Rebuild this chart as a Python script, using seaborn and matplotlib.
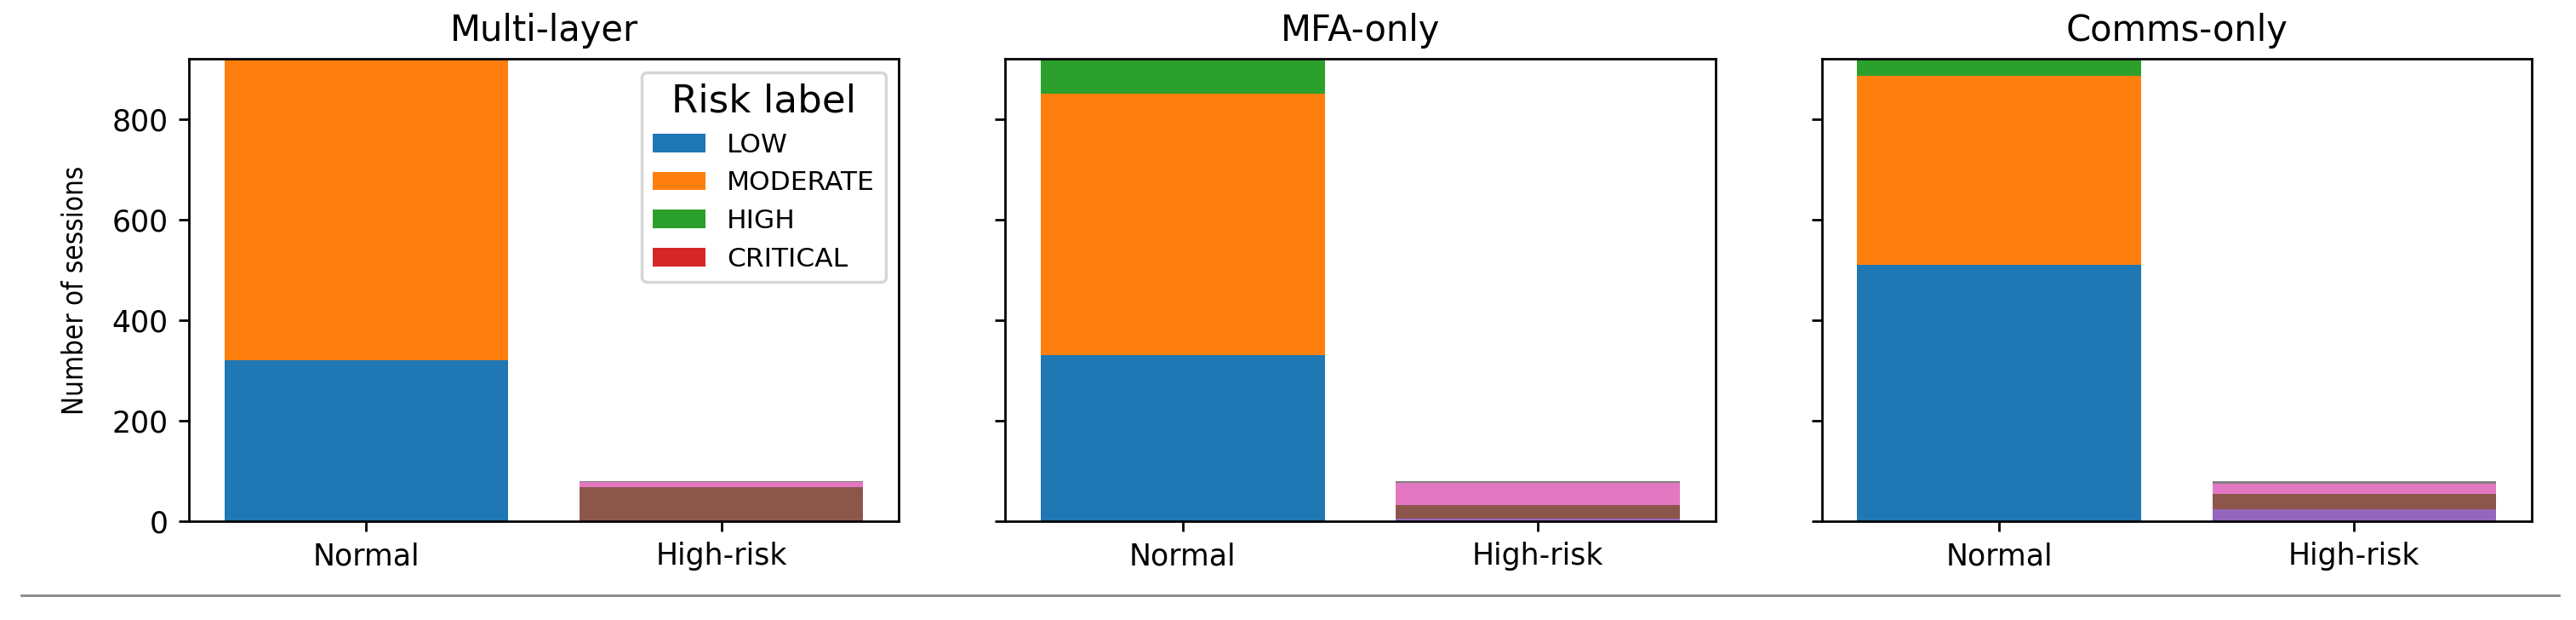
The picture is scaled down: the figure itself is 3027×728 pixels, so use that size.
import numpy as np
import matplotlib
matplotlib.use("Agg")
import matplotlib.pyplot as plt
from matplotlib import font_manager as fm
from matplotlib.patches import Patch
from matplotlib.lines import Line2D
import seaborn as sns

# Categories
groups = ["Normal", "High-risk"]
risk_labels = ["LOW", "MODERATE", "HIGH", "CRITICAL"]
panel_titles = ["Multi-layer", "MFA-only", "Comms-only"]

# Session counts per risk label
multi_normal = [320, 600, 0, 0]
multi_high = [0, 68, 10, 2]
mfa_normal = [330, 520, 70, 0]
mfa_high = [5, 27, 45, 3]
comms_normal = [510, 376, 34, 0]
comms_high = [23, 32, 19, 6]

panels = [
    (multi_normal, multi_high),
    (mfa_normal, mfa_high),
    (comms_normal, comms_high),
]

colors = sns.color_palette("tab10", 8)

# the y label in the reference is set in a narrower face
fonts = {(f.name, f.stretch) for f in fm.fontManager.ttflist}
if ("DejaVu Sans", "condensed") in fonts or ("DejaVu Sans", 300) in fonts:
    ylab_font = dict(family="DejaVu Sans", fontstretch="condensed", fontsize=9.5)
elif any(n == "Liberation Sans Narrow" for n, _ in fonts):
    ylab_font = dict(family="Liberation Sans Narrow", fontsize=10.5)
else:
    ylab_font = dict(family="DejaVu Sans", fontsize=8.5)

fig, axes = plt.subplots(1, 3, figsize=(12.108, 2.912), dpi=250, sharey=True)
fig.subplots_adjust(left=0.0733, right=0.9828, bottom=0.1593, top=0.9052, wspace=0.15)

for ax, title, (normal_vals, high_vals) in zip(axes, panel_titles, panels):
    # Normal bar uses colours 0-3, High-risk bar continues the cycle with 4-7
    for gi, (g, vals) in enumerate(zip(groups, [normal_vals, high_vals])):
        bottom = 0
        for li, v in enumerate(vals):
            sns.barplot(x=[g], y=[v], order=groups, bottom=bottom,
                        color=colors[gi * 4 + li], saturation=1, width=0.8,
                        errorbar=None, linewidth=0, ax=ax)
            bottom += v
    ax.set_title(title, fontsize=12)
    ax.set_xlabel("")
    ax.set_ylabel("Number of sessions", labelpad=7.5, **ylab_font)
    ax.tick_params(labelsize=10)
    ax.yaxis.set_tick_params(labelleft=(ax is axes[0]))
    ax.set_xlim(-0.5, 1.5)

axes[0].set_ylim(0, 920)
axes[0].set_yticks([0, 200, 400, 600, 800])

handles = [Patch(facecolor=colors[i], label=lab) for i, lab in enumerate(risk_labels)]
axes[0].legend(handles=handles, title="Risk label", loc="upper right",
               fontsize=9, title_fontsize=13)

# thin separator line under the figure
fig.add_artist(Line2D([0.0083, 0.9934], [0.0394, 0.0394], color="#888888",
                      lw=0.8, transform=fig.transFigure))

fig.savefig("out.png", dpi=250)
